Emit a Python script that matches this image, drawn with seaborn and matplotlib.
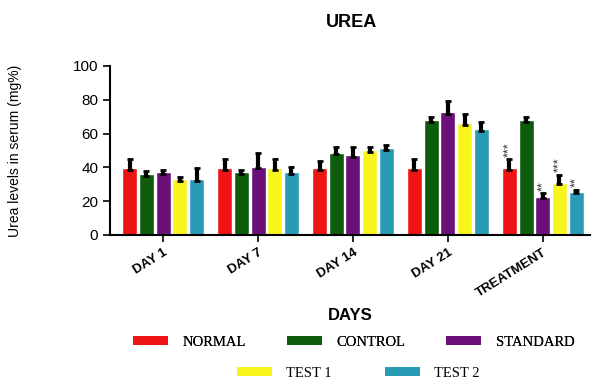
import numpy as np
import pandas as pd
import seaborn as sns
import matplotlib
matplotlib.use("Agg")
import matplotlib.pyplot as plt
from matplotlib.patches import Patch

# ---- data ----
groups = ["DAY 1", "DAY 7", "DAY 14", "DAY 21", "TREATMENT"]
series = ["NORMAL", "CONTROL", "STANDARD", "TEST 1", "TEST 2"]
normal   = [39.5, 39.5, 39.5, 39.5, 39.5]
control  = [36.0, 37.0, 48.7, 68.0, 68.0]
standard = [37.0, 40.5, 47.3, 72.6, 22.7]
test1    = [33.0, 39.5, 50.3, 66.0, 30.9]
test2    = [33.0, 37.0, 51.3, 62.7, 25.6]
normal_err   = [5.5, 5.5, 4.5, 5.5, 5.3]
control_err  = [2.0, 1.5, 3.3, 2.0, 2.0]
standard_err = [1.5, 8.2, 4.7, 6.9, 2.1]
test1_err    = [1.5, 5.5, 1.6, 5.6, 4.6]
test2_err    = [6.4, 3.4, 1.7, 4.3, 1.0]
stars = {("TREATMENT", "NORMAL"): "***", ("TREATMENT", "STANDARD"): "**",
         ("TREATMENT", "TEST 1"): "***", ("TREATMENT", "TEST 2"): "**"}
colors = ["#ee1414", "#0c5c0c", "#6b1078", "#f7f51c", "#2a9bb5"]

values = [normal, control, standard, test1, test2]
errs = [normal_err, control_err, standard_err, test1_err, test2_err]

df = pd.DataFrame({
    "group": np.repeat([groups], len(series), axis=0).ravel(),
    "series": np.repeat(series, len(groups)),
    "value": np.ravel(values),
})

sns.set_style("ticks")
plt.rcParams["font.family"] = ["Liberation Sans", "DejaVu Sans"]
plt.rcParams["text.color"] = "black"
plt.rcParams["axes.labelcolor"] = "black"
plt.rcParams["xtick.color"] = "black"
plt.rcParams["ytick.color"] = "black"

fig = plt.figure(figsize=(6.01, 3.79), dpi=100)
ax = fig.add_axes([0.183, 0.380, 0.799, 0.446])

sns.barplot(data=df, x="group", y="value", hue="series", order=groups,
            hue_order=series, palette=colors, width=0.88, gap=0.1,
            errorbar=None, legend=False, ax=ax, saturation=1)

for cont, err, sname in zip(ax.containers, errs, series):
    xs = [p.get_x() + p.get_width() / 2 for p in cont.patches]
    hs = [p.get_height() for p in cont.patches]
    ax.errorbar(xs, hs, yerr=[np.full(len(err), 1.0), err], fmt="none",
                ecolor="black", elinewidth=3, capsize=2.5, capthick=2)
    for gi, g in enumerate(groups):
        s = stars.get((g, sname))
        if s:
            ax.text(xs[gi], hs[gi] + err[gi] + 1.5, s, rotation=90,
                    ha="center", va="bottom", fontsize=9, color="#333333")

ax.set_ylim(0, 100)
ax.set_xlim(-0.56, 4.5)
ax.set_yticks(range(0, 101, 20))
ax.tick_params(axis="y", labelsize=11, length=5, width=1.2)
ax.tick_params(axis="x", length=5, width=1.2)
ax.set_xticks(range(len(groups)))
ax.set_xticklabels(groups, rotation=32, ha="right", rotation_mode="anchor",
                   fontsize=9.5, fontweight="bold")
for sp in ["top", "right"]:
    ax.spines[sp].set_visible(False)
for sp in ["left", "bottom"]:
    ax.spines[sp].set_linewidth(1.5)
    ax.spines[sp].set_color("black")

ax.set_xlabel("")
ax.set_ylabel("Urea levels in serum (mg%)", fontsize=10)
ax.yaxis.set_label_coords(-0.183, 0.5)

fig.text(0.585, 0.94, "UREA", ha="center", va="center", fontsize=13,
         fontweight="bold")
fig.text(0.583, 0.168, "DAYS", ha="center", va="center", fontsize=12,
         fontweight="bold")

handles = [Patch(facecolor=c, edgecolor="none") for c in colors]
lprop = {"family": "Liberation Serif", "size": 10.5}
leg1 = fig.legend(handles[:3], series[:3], loc="center left",
                  bbox_to_anchor=(0.221, 0.0976), ncol=3, frameon=False,
                  borderpad=0, borderaxespad=0,
                  handlelength=2.4, handleheight=0.55, handletextpad=1.0,
                  columnspacing=2.8, prop=lprop)
fig.legend(handles[3:], series[3:], loc="center left",
           bbox_to_anchor=(0.394, 0.0158), ncol=2, frameon=False,
           borderpad=0, borderaxespad=0,
           handlelength=2.4, handleheight=0.55, handletextpad=1.0,
           columnspacing=3.6, prop=lprop)
fig.add_artist(leg1)

fig.savefig("out.png", dpi=100)
